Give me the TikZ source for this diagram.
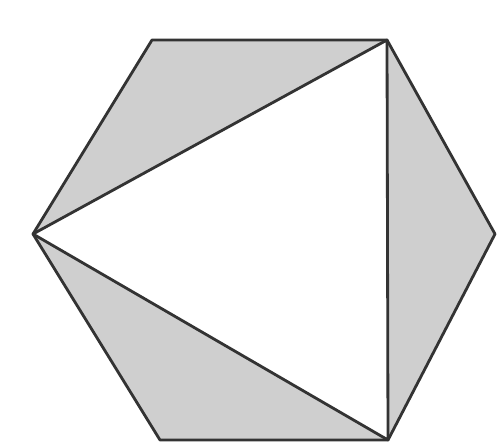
\documentclass[tikz,border=0pt]{standalone}
\begin{document}
\begin{tikzpicture}[x=0.02cm,y=-0.02cm,
  edge/.style={draw=black!80,line width=1.6pt,line join=round}]
\useasboundingbox (0,0) rectangle (499,442);
\coordinate (A) at (152,40);
\coordinate (B) at (387,40);
\coordinate (C) at (495,234);
\coordinate (D) at (388,440);
\coordinate (E) at (160,440);
\coordinate (F) at (33,234);
\fill[black!19] (A) -- (B) -- (C) -- (D) -- (E) -- (F) -- cycle;
\fill[white] (F) -- (B) -- (D) -- cycle;
\draw[edge] (A) -- (B) -- (C) -- (D) -- (E) -- (F) -- cycle;
\draw[edge] (F) -- (B) -- (D) -- cycle;
\end{tikzpicture}
\end{document}
